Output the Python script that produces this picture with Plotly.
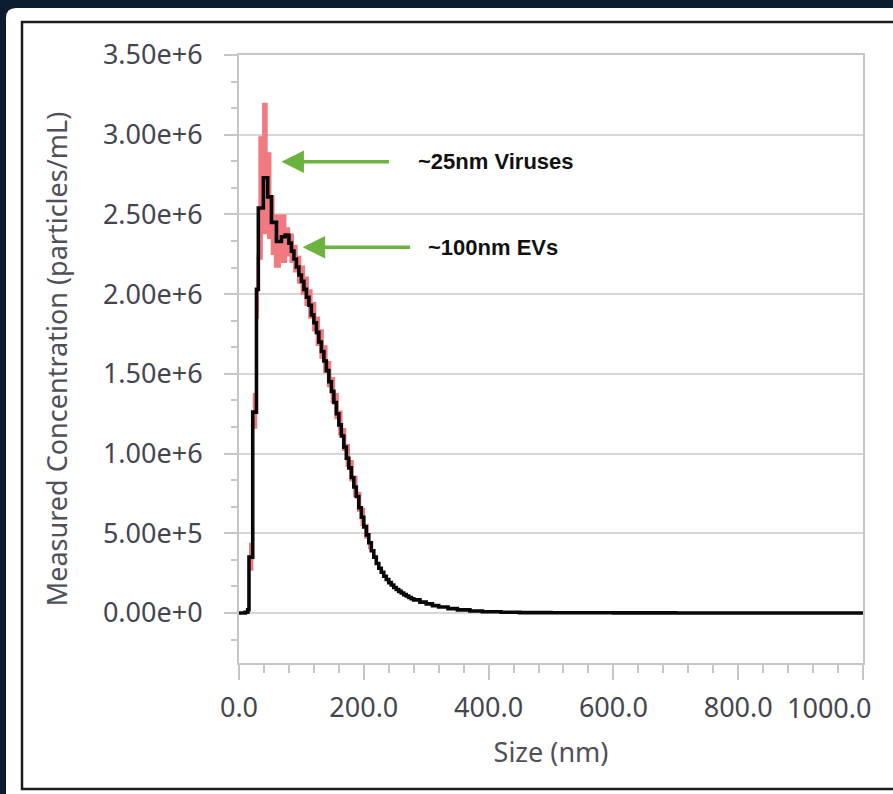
import plotly.graph_objects as go

# ---------------- data ----------------
sizes_nm = [0, 5, 10, 14, 16, 22, 28, 31, 39, 46, 52, 60, 68, 74, 80, 84, 88, 92,
            96, 100, 104, 108, 112, 116, 120, 124, 128, 132, 136, 140, 144, 148,
            152, 156, 160, 164, 168, 172, 176, 180, 184, 188, 192, 196, 200, 204,
            208, 212, 216, 220, 224, 228, 232, 236, 240, 244, 248, 252, 256, 260,
            264, 268, 272, 276, 280, 290, 300, 310, 320, 335, 350, 370, 390, 420,
            450, 500, 600, 700, 800, 900, 1000]
mean_conc = [0, 0, 0.004e6, 0.02e6, 0.35e6, 1.26e6, 2.03e6, 2.54e6, 2.73e6, 2.61e6,
             2.45e6, 2.33e6, 2.36e6, 2.37e6, 2.32e6, 2.27e6, 2.22e6, 2.17e6,
             2.12e6, 2.08e6, 2.03e6, 1.98e6, 1.93e6, 1.87e6, 1.82e6, 1.76e6,
             1.70e6, 1.64e6, 1.58e6, 1.52e6, 1.45e6, 1.39e6, 1.32e6, 1.25e6,
             1.18e6, 1.11e6, 1.04e6, 0.97e6, 0.91e6, 0.85e6, 0.79e6, 0.73e6,
             0.66e6, 0.60e6, 0.54e6, 0.49e6, 0.44e6, 0.39e6, 0.35e6, 0.31e6,
             0.28e6, 0.255e6, 0.23e6, 0.21e6, 0.19e6, 0.175e6, 0.16e6, 0.147e6,
             0.135e6, 0.125e6, 0.115e6, 0.106e6, 0.097e6, 0.089e6, 0.082e6,
             0.068e6, 0.057e6, 0.046e6, 0.037e6, 0.027e6, 0.019e6, 0.012e6,
             0.0075e6, 0.004e6, 0.002e6, 0.001e6, 0.0003e6, 0.0001e6, 0, 0, 0]

band_sizes_nm = [14, 16, 22, 28, 31, 37, 46, 52, 57, 66, 76, 82, 88, 94, 100, 106,
                 112, 118, 124, 130, 136, 142, 148, 154, 160, 166, 172, 178, 184,
                 190, 196, 202, 208]
band_upper = [0.04e6, 0.44e6, 1.38e6, 2.25e6, 2.99e6, 3.20e6, 2.89e6, 2.62e6,
              2.50e6, 2.50e6, 2.42e6, 2.38e6, 2.31e6, 2.24e6, 2.18e6, 2.11e6,
              2.03e6, 1.95e6, 1.86e6, 1.78e6, 1.68e6, 1.58e6, 1.48e6, 1.38e6,
              1.27e6, 1.16e6, 1.06e6, 0.96e6, 0.86e6, 0.76e6, 0.66e6, 0.56e6, 0.48e6]
band_lower = [0.0, 0.27e6, 1.16e6, 1.85e6, 2.22e6, 2.38e6, 2.35e6, 2.25e6,
              2.17e6, 2.20e6, 2.24e6, 2.20e6, 2.14e6, 2.07e6, 2.00e6, 1.93e6,
              1.85e6, 1.77e6, 1.68e6, 1.60e6, 1.51e6, 1.42e6, 1.32e6, 1.22e6,
              1.12e6, 1.02e6, 0.92e6, 0.83e6, 0.73e6, 0.64e6, 0.55e6, 0.47e6, 0.40e6]

x_tick_vals = [0, 200, 400, 600, 800, 1000]
x_tick_text = ["0.0", "200.0", "400.0", "600.0", "800.0", "1000.0"]
y_tick_vals = [0, 0.5e6, 1.0e6, 1.5e6, 2.0e6, 2.5e6, 3.0e6, 3.5e6]
y_tick_text = ["0.00e+0", "5.00e+5", "1.00e+6", "1.50e+6", "2.00e+6",
               "2.50e+6", "3.00e+6", "3.50e+6"]

note_labels = ["~25nm Viruses", "~100nm EVs"]
note_tip_nm = [68, 102]
note_tip_conc = [2.83e6, 2.294e6]
note_text_nm = [283, 300]

# ---------------- layout geometry ----------------
W, H = 893, 794
PL, PR, PT, PB = 239, 863, 55, 663  # plot area in pixels
NAVY = "#0c1b2e"


def px(x):
    return (x - PL) / (PR - PL)


def py(y):
    return (PB - y) / (PB - PT)


TICK_FONT = dict(family="Noto Sans, Open Sans, sans-serif", size=27, color="#454550")
TITLE_FONT = dict(family="Noto Sans, Open Sans, sans-serif", size=27, color="#505058")
AX_GRAY = "#c6c6c6"

fig = go.Figure()

# error band (pink)
fig.add_trace(go.Scatter(x=band_sizes_nm, y=band_upper, mode="lines",
                         line=dict(width=0, shape="hv", color="#f07a80"),
                         showlegend=False, hoverinfo="skip"))
fig.add_trace(go.Scatter(x=band_sizes_nm, y=band_lower, mode="lines",
                         line=dict(width=1.5, shape="hv", color="#f07a80"),
                         fill="tonexty", fillcolor="#f07a80",
                         showlegend=False, hoverinfo="skip"))
# mean line
fig.add_trace(go.Scatter(x=sizes_nm, y=mean_conc, mode="lines",
                         line=dict(width=3.6, shape="hv", color="#080808"),
                         showlegend=False))

# last tick label is drawn as an annotation so it can sit left of its tick
x_display = x_tick_text[:-1] + [""]

fig.update_xaxes(range=[0, 1000], tickmode="array", tickvals=x_tick_vals,
                 ticktext=x_display, ticks="outside", ticklen=15, tickwidth=2,
                 tickcolor=AX_GRAY, showline=True, linecolor=AX_GRAY, linewidth=2,
                 mirror=True, showgrid=False, zeroline=False, automargin=False,
                 tickfont=TICK_FONT, ticklabelstandoff=5,
                 minor=dict(dtick=40, tick0=0, ticks="outside", ticklen=8,
                            tickwidth=2, tickcolor=AX_GRAY, showgrid=False),
                 title=dict(text="Size (nm)", standoff=19, font=TITLE_FONT))
fig.update_yaxes(range=[-3.14e5, 3.5e6], tickmode="array", tickvals=y_tick_vals,
                 ticktext=y_tick_text, ticks="outside", ticklen=13, tickwidth=2,
                 tickcolor=AX_GRAY, showline=True, linecolor=AX_GRAY, linewidth=2,
                 mirror=True, showgrid=True, gridcolor="#d6d6d6", gridwidth=2,
                 zeroline=False, automargin=False,
                 tickfont=TICK_FONT, ticklabelstandoff=16,
                 minor=dict(dtick=0.5e6 / 3, tick0=0, ticks="outside", ticklen=6,
                            tickwidth=2, tickcolor=AX_GRAY, showgrid=False),
                 title=dict(text="Measured Concentration (particles/mL)", standoff=27,
                            font=TITLE_FONT))

# frame: white rounded panel and black border
r = 10
panel_path = (f"M {px(6)},{py(800)} L {px(6)},{py(8 + r)} "
              f"Q {px(6)},{py(8)} {px(6 + r)},{py(8)} "
              f"L {px(910)},{py(8)} L {px(910)},{py(800)} Z")
shapes = [
    dict(type="path", xref="paper", yref="paper", path=panel_path,
         fillcolor="white", line=dict(width=0), layer="below"),
    dict(type="rect", xref="paper", yref="paper", x0=px(22), y0=py(22),
         x1=px(910), y1=py(789), line=dict(color="#1c1c1c", width=2.5),
         fillcolor="rgba(0,0,0,0)", layer="below"),
]

annotations = []
for lab, tx, ty, lx in zip(note_labels, note_tip_nm, note_tip_conc, note_text_nm):
    annotations.append(dict(x=tx, y=ty, xref="x", yref="y", text="",
                            showarrow=True, ax=109, ay=0, arrowhead=2,
                            arrowsize=1.25, arrowwidth=3.6, arrowcolor="#6cb23e",
                            standoff=0, startstandoff=0))
    annotations.append(dict(x=lx, y=ty, xref="x", yref="y", text=f"<b>{lab}</b>",
                            showarrow=False, xanchor="left", yanchor="middle",
                            font=dict(family="Liberation Sans, Arial, sans-serif",
                                      size=22, color="#111111")))

# last x tick label, right-aligned just past its tick (as in the reference)
annotations.append(dict(x=x_tick_vals[-1], y=py(708), xref="x", yref="paper",
                        text=x_tick_text[-1], showarrow=False, xanchor="right",
                        yanchor="middle", xshift=10, font=TICK_FONT))

fig.update_layout(width=W, height=H, autosize=False,
                  margin=dict(l=PL, r=W - PR, t=PT, b=H - PB, pad=0),
                  paper_bgcolor=NAVY, plot_bgcolor="white",
                  shapes=shapes, annotations=annotations, showlegend=False)

fig.write_html("out.html",
               config={"displayModeBar": False},
               post_script=(f"document.body.style.margin='0';"
                            f"document.body.style.background='{NAVY}';"))
